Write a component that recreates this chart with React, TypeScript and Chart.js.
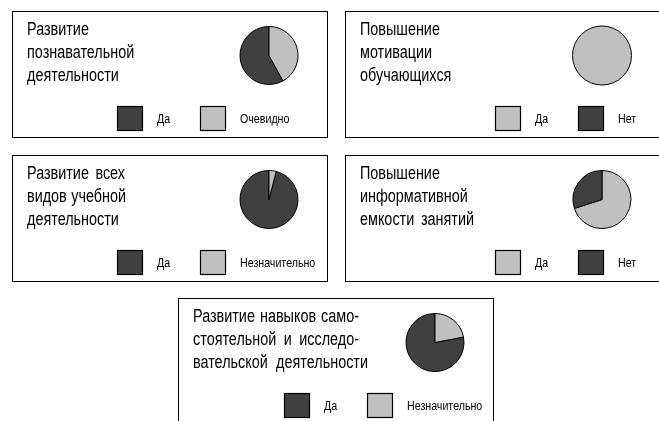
import React, { useEffect, useRef } from "react";
import { Chart, PieController, ArcElement } from "chart.js";

Chart.register(PieController, ArcElement);

const DARK = "#404040";
const LIGHT = "#c0c0c0";

// Panel 1
const titles1 = ["Развитие", "познавательной", "деятельности"];
const labels1 = ["Да", "Очевидно"];
const values1 = [58, 42];
const colors1 = [DARK, LIGHT];

// Panel 2
const titles2 = ["Повышение", "мотивации", "обучающихся"];
const labels2 = ["Да", "Нет"];
const values2 = [100, 0];
const colors2 = [LIGHT, DARK];

// Panel 3
const titles3 = ["Развитие всех", "видов учебной", "деятельности"];
const labels3 = ["Да", "Незначительно"];
const values3 = [96, 4];
const colors3 = [DARK, LIGHT];

// Panel 4
const titles4 = ["Повышение", "информативной", "емкости занятий"];
const labels4 = ["Да", "Нет"];
const values4 = [70, 30];
const colors4 = [LIGHT, DARK];

// Panel 5
const titles5 = ["Развитие навыков само-", "стоятельной и исследо-", "вательской деятельности"];
const labels5 = ["Да", "Незначительно"];
const values5 = [78, 22];
const colors5 = [DARK, LIGHT];

const FAMILY = '"Liberation Sans", Arial, sans-serif';
const TITLE_NARROW = 0.8;
const LEGEND_NARROW = 0.82;
const TITLE_SIZE = 18;
const LEGEND_SIZE = 13;

type PanelCfg = {
  left: number;
  top: number;
  width: number;
  height: number;
  titles: string[];
  lineWidths: (number | null)[];
  labels: string[];
  values: number[];
  colors: string[];
  ccw: boolean;
  legendX: number;
};

const panels: PanelCfg[] = [
  { left: 12, top: 11, width: 316, height: 127, titles: titles1, lineWidths: [null, null, null], labels: labels1, values: values1, colors: colors1, ccw: true, legendX: 105 },
  { left: 345, top: 11, width: 320, height: 127, titles: titles2, lineWidths: [null, null, null], labels: labels2, values: values2, colors: colors2, ccw: false, legendX: 150 },
  { left: 12, top: 155, width: 316, height: 127, titles: titles3, lineWidths: [98, 99, null], labels: labels3, values: values3, colors: colors3, ccw: true, legendX: 105 },
  { left: 345, top: 155, width: 320, height: 127, titles: titles4, lineWidths: [null, null, 114], labels: labels4, values: values4, colors: colors4, ccw: false, legendX: 150 },
  { left: 178, top: 298, width: 316, height: 130, titles: titles5, lineWidths: [166, 166, 175], labels: labels5, values: values5, colors: colors5, ccw: true, legendX: 106 },
];

const PIE_CX = 257;
const PIE_CY = 44.5;
const PIE_SIZE = 59;

function narrowText(ctx: CanvasRenderingContext2D, text: string, x: number, y: number, size: number, k: number) {
  ctx.save();
  ctx.font = `${size}px ${FAMILY}`;
  ctx.translate(x, y);
  ctx.scale(k, 1);
  ctx.fillText(text, 0, 0);
  ctx.restore();
}

function measureNarrow(ctx: CanvasRenderingContext2D, text: string, size: number, k: number) {
  ctx.save();
  ctx.font = `${size}px ${FAMILY}`;
  const w = ctx.measureText(text).width * k;
  ctx.restore();
  return w;
}

const decorPlugin = {
  id: "panelDecor",
  afterDatasetsDraw(chart: any) {
    const ds = chart.data.datasets[0];
    const sum = ds.data.reduce((a: number, b: number) => a + b, 0);
    if (ds.data.some((v: number) => v === sum)) {
      const arc = chart.getDatasetMeta(0).data[0];
      const ctx = chart.ctx as CanvasRenderingContext2D;
      ctx.save();
      ctx.strokeStyle = "#000";
      ctx.lineWidth = 1;
      ctx.beginPath();
      ctx.arc(arc.x, arc.y, arc.outerRadius, 0, Math.PI * 2);
      ctx.stroke();
      ctx.restore();
    }
  },
  afterDraw(chart: any, _args: any, opts: any) {
    const ctx = chart.ctx as CanvasRenderingContext2D;
    const w = chart.width;
    const h = chart.height;
    ctx.save();
    ctx.strokeStyle = "#000";
    ctx.lineWidth = 1;
    ctx.strokeRect(0.5, 0.5, w - 1, h - 1);

    ctx.fillStyle = "#000";
    ctx.textBaseline = "alphabetic";
    ctx.textAlign = "left";
    (opts.titles as string[]).forEach((line, i) => {
      const y = 24 + i * 23;
      const target = opts.lineWidths[i];
      const words = line.split(" ");
      const ws = words.map((wd) => measureNarrow(ctx, wd, TITLE_SIZE, TITLE_NARROW));
      const total = ws.reduce((a, b) => a + b, 0);
      const gap =
        target && words.length > 1
          ? (target - total) / (words.length - 1)
          : measureNarrow(ctx, " ", TITLE_SIZE, TITLE_NARROW);
      let x = 15;
      words.forEach((wd, k) => {
        narrowText(ctx, wd, x, y, TITLE_SIZE, TITLE_NARROW);
        x += ws[k] + gap;
      });
    });

    const ds = chart.data.datasets[0];
    (chart.data.labels as string[]).forEach((lab, i) => {
      const x = opts.legendX + i * 83;
      ctx.fillStyle = ds.backgroundColor[i];
      ctx.fillRect(x, 95, 26, 25);
      ctx.strokeStyle = "#000";
      ctx.lineWidth = 1.2;
      ctx.strokeRect(x + 0.5, 95.5, 25, 24);
      ctx.fillStyle = "#000";
      ctx.textBaseline = "middle";
      narrowText(ctx, lab, x + 40, 108, LEGEND_SIZE, LEGEND_NARROW);
    });
    ctx.restore();
  },
};

function Panel({ cfg }: { cfg: PanelCfg }) {
  const ref = useRef<HTMLCanvasElement | null>(null);
  useEffect(() => {
    if (!ref.current) return;
    const sum = cfg.values.reduce((a, b) => a + b, 0);
    const full = cfg.values.some((v) => v === sum);
    const rotation = cfg.ccw ? (360 * cfg.values[1]) / sum : 0;
    const padLeft = PIE_CX - PIE_SIZE / 2;
    const padTop = PIE_CY - PIE_SIZE / 2;
    const chart = new Chart(ref.current, {
      type: "pie",
      data: {
        labels: cfg.labels,
        datasets: [
          {
            data: cfg.values,
            backgroundColor: cfg.colors,
            borderColor: "#000",
            borderWidth: full ? 0 : 1,
          },
        ],
      },
      options: {
        responsive: false,
        animation: false,
        rotation,
        layout: {
          padding: {
            left: padLeft,
            top: padTop,
            right: cfg.width - padLeft - PIE_SIZE,
            bottom: cfg.height - padTop - PIE_SIZE,
          },
        },
        plugins: {
          legend: { display: false },
          tooltip: { enabled: false },
          panelDecor: { titles: cfg.titles, lineWidths: cfg.lineWidths, legendX: cfg.legendX },
        } as any,
      },
      plugins: [decorPlugin],
    });
    return () => chart.destroy();
  }, [cfg]);
  return (
    <canvas
      ref={ref}
      width={cfg.width}
      height={cfg.height}
      style={{ position: "absolute", left: cfg.left, top: cfg.top, width: cfg.width, height: cfg.height }}
    />
  );
}

export default function App() {
  return (
    <div
      style={{
        position: "fixed",
        left: 0,
        top: 0,
        width: 659,
        height: 421,
        overflow: "hidden",
        background: "#fff",
      }}
    >
      {panels.map((p, i) => (
        <Panel key={i} cfg={p} />
      ))}
    </div>
  );
}
